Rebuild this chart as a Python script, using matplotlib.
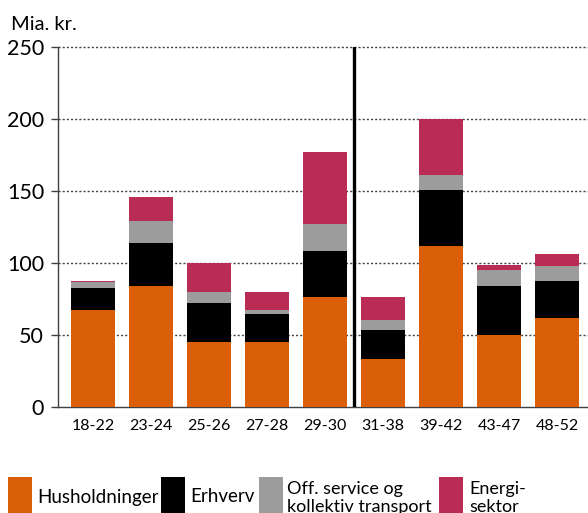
import matplotlib
matplotlib.use("Agg")
import matplotlib.pyplot as plt
from matplotlib.patches import Rectangle
import numpy as np

plt.rcParams['font.family'] = ['Lato', 'DejaVu Sans']

categories = ["18-22", "23-24", "25-26", "27-28", "29-30", "31-38", "39-42", "43-47", "48-52"]
husholdninger = [67.1, 84.0, 45.1, 45.1, 76.4, 33.6, 112.1, 50.1, 62.0]
erhverv = [15.5, 29.7, 27.1, 19.5, 31.7, 20.0, 38.9, 34.1, 25.7]
off_service = [4.2, 15.5, 7.7, 2.8, 19.0, 7.0, 9.8, 11.2, 10.4]
energisektor = [0.5, 16.4, 20.1, 12.5, 50.0, 16.0, 39.2, 3.0, 8.4]

series_labels = ["Husholdninger", "Erhverv", "Off. service og\nkollektiv transport", "Energi-\nsektor"]
colors = ["#DA5F08", "#000000", "#9C9C9C", "#BA2C53"]
y_ticks = [0, 50, 100, 150, 200, 250]
unit_label = "Mia. kr."

fig = plt.figure(figsize=(5.88, 5.13), dpi=100)
ax = fig.add_axes([58/588, 106/513, 530/588, 360/513])

x = np.arange(len(categories))
bottom = np.zeros(len(categories))
for vals, col in zip([husholdninger, erhverv, off_service, energisektor], colors):
    ax.bar(x, vals, bottom=bottom, width=0.76, color=col, zorder=3)
    bottom += np.array(vals)

ax.set_xlim(-0.6, 8.53)
ax.set_ylim(0, 250)
ax.set_yticks(y_ticks)
ax.set_yticklabels([str(t) for t in y_ticks], fontsize=15.5)
ax.set_xticks(x)
ax.set_xticklabels(categories, fontsize=11.5)
ax.tick_params(axis='x', length=0, pad=9)
ax.tick_params(axis='y', length=5, width=1, color="#404040", pad=5)

for t in y_ticks[1:]:
    ax.axhline(t, color="#444444", lw=1, ls=(0, (1.5, 1.5)), zorder=1, clip_on=False)

ax.axvline(4.5, color="black", lw=2.4, zorder=4)

for s in ["top", "right"]:
    ax.spines[s].set_visible(False)
for s in ["left", "bottom"]:
    ax.spines[s].set_color("#404040")
    ax.spines[s].set_linewidth(1)

fig.text(11/588, 1 - 24/513, unit_label, fontsize=14.5, va="center", ha="left")

# legend
patch_x = [8, 161, 259, 439]
text_x = [37, 190, 287, 469]
for px, tx, lab, col in zip(patch_x, text_x, series_labels, colors):
    fig.add_artist(Rectangle((px/588, 0), 24/588, 36/513, transform=fig.transFigure,
                             facecolor=col, edgecolor="none"))
    if "\n" in lab:
        fig.text(tx/588, 1 - 498/513, lab, fontsize=13, va="center", ha="left", linespacing=1.15)
    else:
        fig.text(tx/588, 1 - 497/513, lab, fontsize=13.5, va="center", ha="left")

fig.savefig("out.png", dpi=100)
